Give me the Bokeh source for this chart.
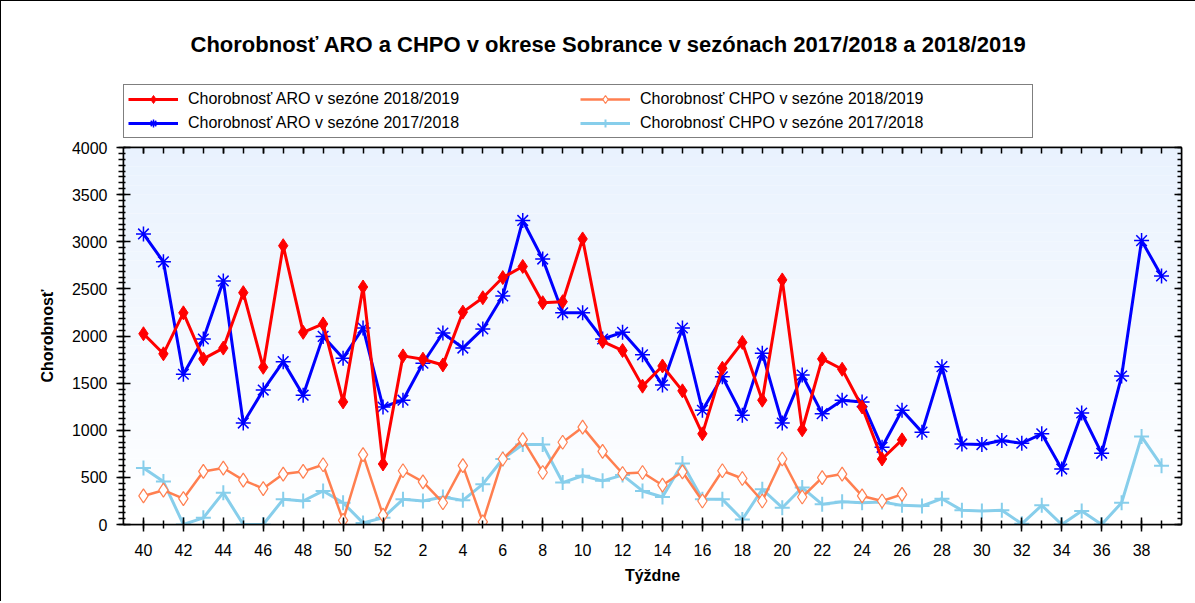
from bokeh.plotting import figure
from bokeh.layouts import column
from bokeh.models import Range1d, LinearAxis, FixedTicker, Legend, LegendItem, Label
from bokeh.embed import file_html
from bokeh.resources import INLINE

# ---------------- data ----------------
weeks = list(range(40, 53)) + list(range(1, 40))

aro_1819 = [2024, 1811, 2246, 1757, 1872, 2460, 1668, 2958, 2039, 2128, 1301, 2520, 642,
            1789, 1754, 1693, 2253, 2406, 2620, 2738, 2353, 2364, 3030, 1942, 1846, 1468,
            1682, 1418, 962, 1658, 1932, 1319, 2595, 1005, 1757, 1647, 1247, 695, 898]

aro_1718 = [3083, 2787, 1594, 1968, 2584, 1076, 1426, 1728, 1372, 1996, 1765, 2085, 1247,
            1319, 1711, 2032, 1872, 2075, 2424, 3226, 2816, 2246, 2246, 1968, 2039, 1800,
            1479, 2085, 1212, 1568, 1158, 1818, 1076, 1586, 1176, 1319, 1301, 819, 1212,
            980, 1675, 855, 848, 891, 862, 962, 588, 1183, 755, 1575, 3012, 2637]

chpo_1819 = [303, 364, 274, 563, 599, 471, 381, 535, 563, 634, 43, 741, 99,
             570, 452, 231, 624, 28, 695, 901, 552, 873, 1033, 776, 541, 552,
             417, 559, 249, 570, 488, 249, 695, 292, 498, 535, 303, 249, 320]

chpo_1718 = [599, 456, 0, 71, 338, 0, 0, 267, 249, 356, 231, 17, 71,
             267, 249, 292, 256, 428, 695, 848, 848, 445, 517, 463, 524, 356,
             292, 648, 267, 267, 53, 374, 178, 392, 214, 242, 231, 238, 203,
             196, 274, 150, 143, 150, 7, 203, 0, 143, 0, 231, 933, 624]

y_ticks = list(range(0, 4001, 500))

title_text = "Chorobnosť ARO a CHPO v okrese Sobrance v sezónach 2017/2018 a 2018/2019"
labels = ["Chorobnosť ARO v sezóne 2018/2019", "Chorobnosť ARO v sezóne 2017/2018",
          "Chorobnosť CHPO v sezóne 2018/2019", "Chorobnosť CHPO v sezóne 2017/2018"]

FONT = "Liberation Sans"
SKY = "#87CEEB"
CORAL = "#FF7F50"

idx_all = list(range(len(weeks)))
series = [aro_1819, aro_1718, chpo_1819, chpo_1718]

# series styles
styles = [
    dict(line=dict(line_color="red", line_width=3),
         mark=dict(marker="diamond", size=14, line_color="red", fill_color="red")),
    dict(line=dict(line_color="blue", line_width=3),
         mark=dict(marker="asterisk", size=15, line_color="blue", line_width=1.5)),
    dict(line=dict(line_color=CORAL, line_width=2.5),
         mark=dict(marker="diamond", size=14, line_color=CORAL, fill_color="white",
                   line_width=1.2)),
    dict(line=dict(line_color=SKY, line_width=3),
         mark=dict(marker="cross", size=15, line_color=SKY, line_width=2)),
]

# ---------------- header figure: title + legend ----------------
HEAD_H = 138
head = figure(width=1195, height=HEAD_H, output_backend="svg", toolbar_location=None,
              x_range=Range1d(-200, -199), y_range=Range1d(0, 1), min_border=0,
              x_axis_type=None, y_axis_type=None)
head.grid.visible = False
head.outline_line_color = None
head.background_fill_color = "white"
head.border_fill_color = "white"

items = []
for lab, st, vals in zip(labels, styles, series):
    xs = idx_all[:len(vals)]
    # same series, kept outside the (hidden) header view: only legend swatches show
    lr = head.line(xs, vals, **st["line"])
    mr = head.scatter(xs, vals, **st["mark"])
    items.append(LegendItem(label=lab, renderers=[lr, mr]))

legend = Legend(items=items)
legend.ncols = 2
legend.location = (0, 1)
legend.border_line_color = "black"
legend.border_line_width = 1.5
legend.background_fill_color = "white"
legend.background_fill_alpha = 1
legend.label_text_font = FONT
legend.label_text_font_size = "16px"
legend.label_text_color = "black"
legend.glyph_width = 50
legend.glyph_height = 20
legend.label_standoff = 10
legend.label_width = 388
legend.spacing = 4
legend.padding = 4
legend.margin = 0
head.add_layout(legend, "center")

head.add_layout(Label(x=485, y=HEAD_H - 43, x_units="screen", y_units="screen",
                      text=title_text, text_align="center", text_baseline="middle",
                      text_font=FONT, text_font_style="bold", text_font_size="22px",
                      text_color="black"))

# ---------------- main chart ----------------
p = figure(width=1195, height=600 - HEAD_H, output_backend="svg", toolbar_location=None,
           x_range=Range1d(-1, len(weeks)), y_range=Range1d(0, 4000),
           min_border_left=122, min_border_right=15, min_border_top=8,
           min_border_bottom=77)
p.grid.visible = False
p.outline_line_color = "black"
p.outline_line_width = 1.5
p.background_fill_color = "white"
p.border_fill_color = "white"

# background gradient (light blue top -> white bottom)
n = 40
ymax = y_ticks[-1]
bot, top, cols = [], [], []
for i in range(n):
    t = (i + 0.5) / n
    r = int(round(255 - 22 * t))
    g = int(round(255 - 13 * t))
    b = int(round(255 - 1 * t))
    bot.append(ymax * i / n)
    top.append(ymax * (i + 1) / n)
    cols.append("#%02x%02x%02x" % (r, g, b))
p.quad(left=-1, right=len(weeks), bottom=bot, top=top, fill_color=cols, line_color=None)

even = [i for i in idx_all if i % 2 == 0]
xt = FixedTicker(ticks=even, minor_ticks=idx_all)
p.xaxis.ticker = xt
p.xaxis.major_label_overrides = {i: str(weeks[i]) for i in even}
yt = FixedTicker(ticks=y_ticks, minor_ticks=[k * 62.5 for k in range(65)])
p.yaxis.ticker = yt

for ax in (p.xaxis[0], p.yaxis[0]):
    ax.axis_line_color = "black"
    ax.axis_line_width = 1.5
    ax.major_tick_line_width = 1.5
    ax.minor_tick_line_width = 1.5
    ax.major_tick_line_color = "black"
    ax.minor_tick_line_color = "black"
    ax.major_label_text_font = FONT
    ax.major_label_text_font_size = "16px"
    ax.major_label_text_color = "black"
    ax.axis_label_text_font = FONT
    ax.axis_label_text_font_style = "bold"
    ax.axis_label_text_font_size = "16px"
    ax.axis_label_text_color = "black"

p.xaxis.axis_label = "Týždne"
p.xaxis.major_tick_in = 7
p.xaxis.major_tick_out = 7
p.xaxis.minor_tick_in = 4
p.xaxis.minor_tick_out = 4
p.xaxis.major_label_standoff = 12
p.xaxis.axis_label_standoff = 8

p.yaxis.axis_label = "Chorobnosť"
p.yaxis.major_tick_in = 7
p.yaxis.major_tick_out = 7
p.yaxis.minor_tick_in = 2
p.yaxis.minor_tick_out = 5
p.yaxis.major_label_standoff = 9
p.yaxis.axis_label_standoff = 13

top_ax = LinearAxis(ticker=xt, major_tick_in=6, major_tick_out=0, minor_tick_in=6,
                    minor_tick_out=0, major_label_text_color=None, major_label_standoff=0,
                    major_label_text_font_size="1px", axis_line_color="black",
                    axis_line_width=1.5, major_tick_line_width=1.5, minor_tick_line_width=1.5)
top_ax.major_label_overrides = {i: "" for i in even}
p.add_layout(top_ax, "above")
right_ax = LinearAxis(ticker=yt, major_tick_in=7, major_tick_out=0, minor_tick_in=4,
                      minor_tick_out=0, major_label_text_color=None, major_label_standoff=0,
                      major_label_text_font_size="1px", axis_line_color="black",
                      axis_line_width=1.5, major_tick_line_width=1.5, minor_tick_line_width=1.5)
right_ax.major_label_overrides = {v: "" for v in y_ticks}
p.add_layout(right_ax, "right")

for k in reversed(range(len(series))):
    vals = series[k]
    xs = idx_all[:len(vals)]
    p.line(xs, vals, **styles[k]["line"])
    p.scatter(xs, vals, **styles[k]["mark"])

layout = column(head, p, spacing=0,
                styles={"border-left": "1px solid black", "border-top": "1px solid black"})

open("out.html", "w").write(file_html(layout, INLINE))
